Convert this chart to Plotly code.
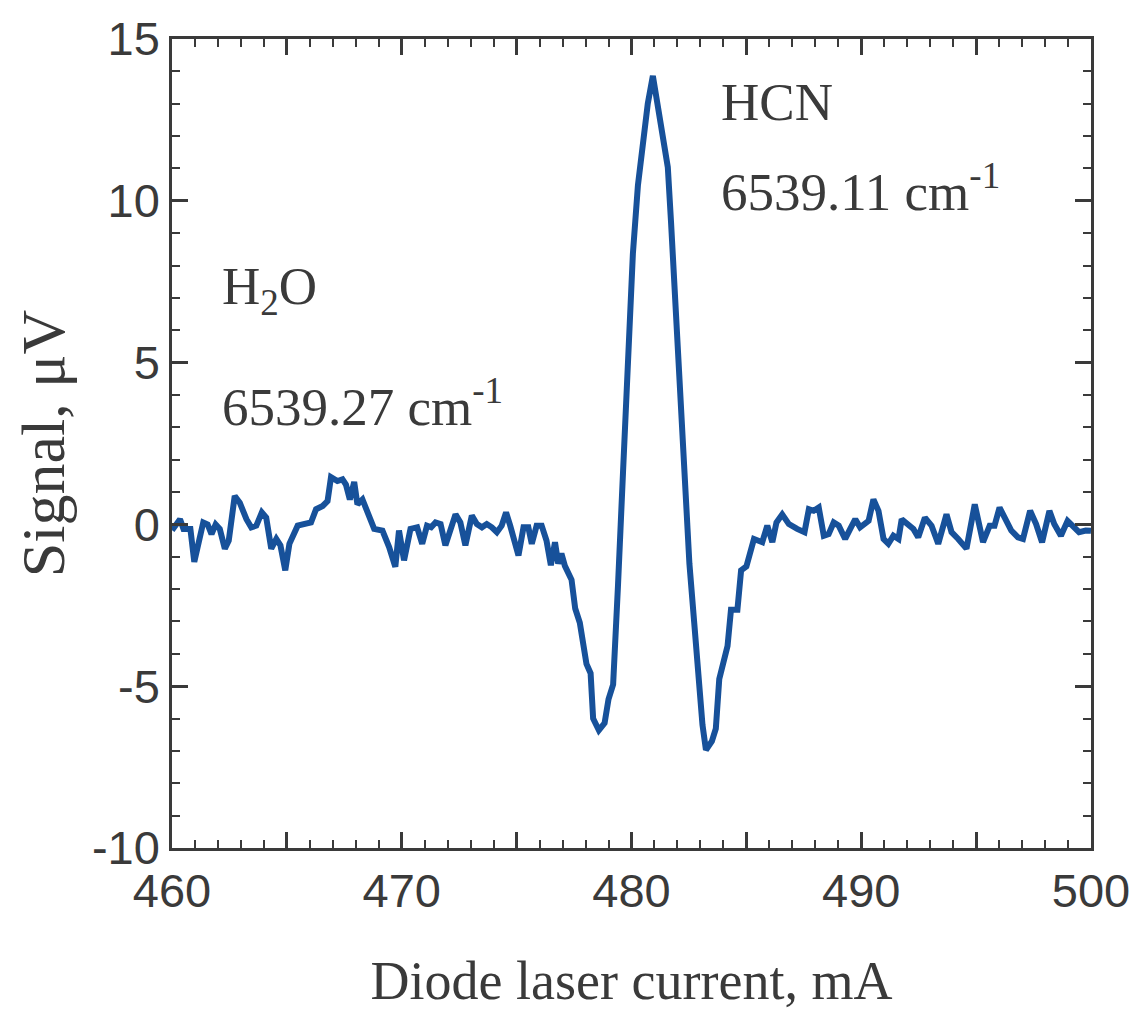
import plotly.graph_objects as go

# Diode laser current (mA) and signal (uV)
current_mA = [
    460.0, 460.35, 460.5, 460.8, 460.97, 461.36, 461.55, 461.72, 461.9, 462.08,
    462.3, 462.47, 462.73, 462.95, 463.24, 463.45, 463.67, 463.91, 464.1, 464.32,
    464.54, 464.72, 464.93, 465.11, 465.47, 465.76, 466.05, 466.27, 466.56, 466.77,
    466.92, 467.2, 467.42, 467.57, 467.74, 467.93, 468.07, 468.29, 468.5, 468.8,
    469.16, 469.45, 469.72, 469.88, 470.1, 470.38, 470.67, 470.89, 471.1, 471.28,
    471.47, 471.69, 471.9, 472.12, 472.34, 472.55, 472.77, 473.05, 473.27, 473.49,
    473.7, 473.92, 474.14, 474.35, 474.54, 474.72, 474.9, 475.08, 475.3, 475.51,
    475.66, 475.87, 476.09, 476.3, 476.49, 476.67, 476.81, 476.95, 477.1, 477.39,
    477.55, 477.75, 478.04, 478.22, 478.33, 478.58, 478.83, 479.0, 479.2, 479.27,
    479.41, 479.63, 479.84, 480.06, 480.28, 480.49, 480.71, 480.93, 481.14, 481.36,
    481.58, 481.72, 481.87, 482.08, 482.23, 482.37, 482.52, 482.73, 482.95, 483.09,
    483.24, 483.5, 483.67, 483.82, 484.18, 484.33, 484.61, 484.77, 485.0, 485.33,
    485.69, 485.91, 486.13, 486.31, 486.56, 486.85, 487.21, 487.53, 487.72, 487.93,
    488.15, 488.37, 488.58, 488.8, 489.02, 489.3, 489.52, 489.74, 489.95, 490.32,
    490.53, 490.75, 490.97, 491.18, 491.4, 491.62, 491.76, 492.05, 492.27, 492.48,
    492.77, 493.06, 493.35, 493.71, 493.93, 494.22, 494.58, 494.94, 495.3, 495.59,
    495.8, 496.02, 496.24, 496.53, 496.82, 497.04, 497.35, 497.61, 497.87, 498.19,
    498.4, 498.69, 498.98, 499.2, 499.48, 499.77, 500.0,
]
signal_uV = [
    -0.18, 0.16, -0.14, -0.14, -1.16, 0.06, 0.0, -0.3, 0.0, -0.14,
    -0.75, -0.5, 0.88, 0.67, 0.16, -0.09, -0.04, 0.37, 0.21, -0.75,
    -0.45, -0.65, -1.42, -0.6, -0.04, 0.01, 0.06, 0.47, 0.57, 0.72,
    1.46, 1.34, 1.39, 1.23, 0.77, 1.31, 0.62, 0.77, 0.37, -0.14,
    -0.19, -0.7, -1.31, -0.19, -1.11, -0.14, -0.09, -0.6, -0.04, -0.09,
    0.06, 0.01, -0.65, -0.19, 0.31, 0.06, -0.65, 0.27, 0.01, -0.09,
    0.01, -0.09, -0.24, -0.04, 0.37, -0.04, -0.55, -0.96, -0.09, -0.09,
    -0.6, -0.04, -0.04, -0.5, -1.26, -0.55, -1.21, -0.9, -1.28, -1.71,
    -2.6, -3.04, -4.31, -4.6, -6.0, -6.36, -6.14, -5.4, -4.95, -4.03,
    -1.92, 1.6, 5.13, 8.36, 10.48, 11.89, 13.01, 13.86, 13.01, 12.03,
    11.04, 9.35, 7.24, 4.42, 2.03, 0.76, -1.21, -3.04, -5.02, -6.2,
    -6.97, -6.7, -6.31, -4.78, -3.76, -2.64, -2.64, -1.42, -1.3, -0.45,
    -0.55, -0.04, -0.55, 0.06, 0.31, 0.01, -0.14, -0.24, 0.47, 0.42,
    0.52, -0.35, -0.3, 0.06, -0.04, -0.45, -0.14, 0.16, -0.09, 0.11,
    0.77, 0.42, -0.45, -0.6, -0.35, -0.45, 0.16, 0.01, -0.14, -0.4,
    0.21, -0.04, -0.6, 0.31, -0.24, -0.45, -0.75, 0.62, -0.55, -0.04,
    -0.04, 0.52, 0.21, -0.19, -0.4, -0.45, 0.42, 0.01, -0.55, 0.42,
    0.01, -0.35, 0.11, -0.04, -0.24, -0.19, -0.2,
]

x_major = [460, 465, 470, 475, 480, 485, 490, 495, 500]
x_major_text = ["460", "", "470", "", "480", "", "490", "", "500"]
y_major = [-10, -5, 0, 5, 10, 15]
y_major_text = ["-10", "-5", "0", "5", "10", "15"]

x_title = "Diode laser current, mA"
y_title = "Signal, μV"
label_hcn = "HCN"
label_hcn_wn = "6539.11 cm<sup>-1</sup>"
label_h2o = "H<sub>2</sub>O"
label_h2o_wn = "6539.27 cm<sup>-1</sup>"

axis_color = "#3a3a3a"
line_color = "#17519a"
serif = "Liberation Serif, Times New Roman, serif"
sans = "Liberation Sans, Arial, sans-serif"

fig = go.Figure()
fig.add_trace(go.Scatter(
    x=current_mA, y=signal_uV, mode="lines",
    line=dict(color=line_color, width=6),
    showlegend=False, hoverinfo="skip",
))

common_axis = dict(
    showgrid=False, zeroline=False, showline=True, linecolor=axis_color,
    linewidth=2.5, mirror="allticks", ticks="inside", tickcolor=axis_color,
    tickwidth=2.5, tickfont=dict(family=sans, size=47, color=axis_color),
)

fig.update_xaxes(
    range=[460, 500], tickmode="array", tickvals=x_major, ticktext=x_major_text,
    ticklen=16,
    minor=dict(dtick=1, ticks="inside", ticklen=8, tickcolor=axis_color, tickwidth=2, showgrid=False),
    title=dict(text=x_title, font=dict(family=serif, size=54, color=axis_color), standoff=46),
    **common_axis,
)
fig.update_yaxes(
    range=[-10, 15], tickmode="array", tickvals=y_major, ticktext=y_major_text,
    ticklen=16,
    minor=dict(dtick=1, ticks="inside", ticklen=8, tickcolor=axis_color, tickwidth=2, showgrid=False),
    title=dict(text=y_title, font=dict(family=serif, size=62, color=axis_color), standoff=8),
    **common_axis,
)

ann_font = dict(family=serif, size=53, color=axis_color)
for text, xv, yv in [
    (label_hcn, 483.83, 13.06),
    (label_hcn_wn, 483.83, 10.4),
    (label_h2o, 462.08, 7.25),
    (label_h2o_wn, 462.08, 3.75),
]:
    fig.add_annotation(x=xv, y=yv, xref="x", yref="y", text=text, showarrow=False,
                       xanchor="left", yanchor="middle", font=ann_font)

fig.update_layout(
    width=1142, height=1013,
    margin=dict(l=172, r=47, t=36, b=159),
    paper_bgcolor="white", plot_bgcolor="white",
)

fig.write_html("out.html")
